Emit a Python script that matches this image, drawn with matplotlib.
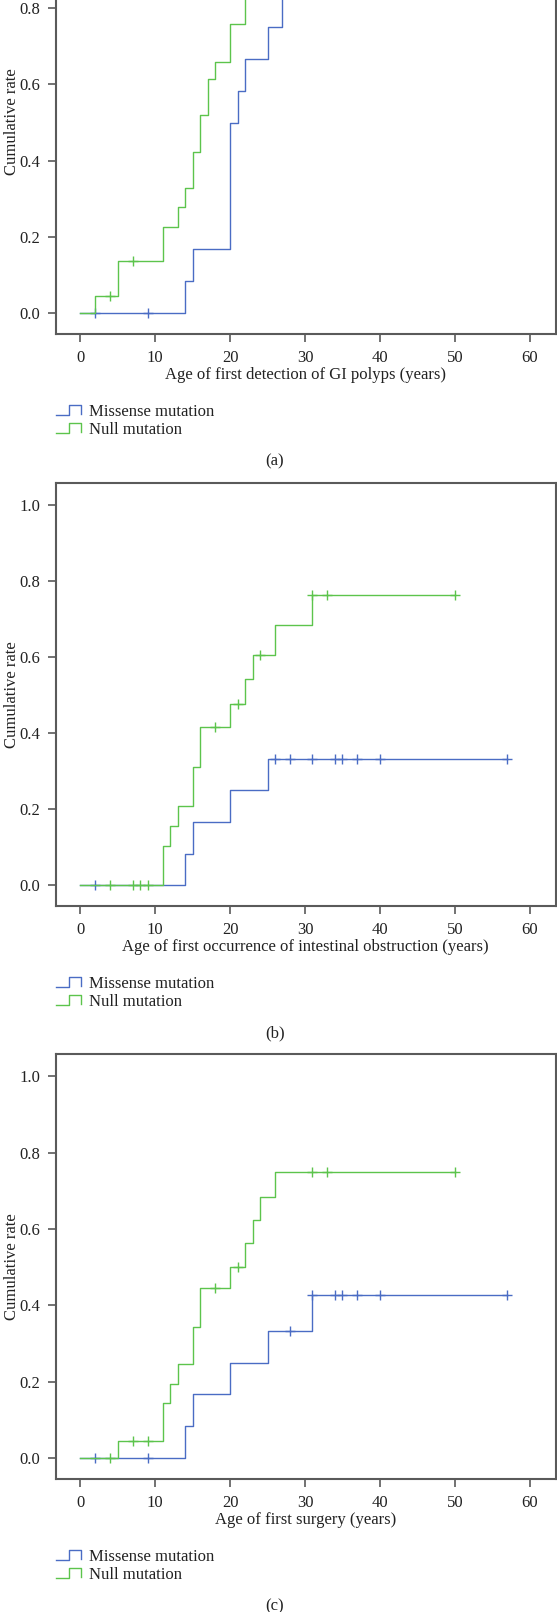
import numpy as np
import matplotlib
matplotlib.use("Agg")
import matplotlib.pyplot as plt
from matplotlib.legend_handler import HandlerBase
from matplotlib.lines import Line2D

# curve data: event times and cumulative rates (step, where='post')
a_miss_t = [0, 14, 15, 20, 21, 22, 25, 27, 30]
a_miss_y = [0, 0.083, 0.167, 0.500, 0.583, 0.667, 0.750, 0.875, 0.875]
a_miss_cens = [2, 9]
a_null_t = [0, 2, 5, 11, 13, 14, 15, 16, 17, 18, 20, 22, 26]
a_null_y = [0, 0.045, 0.136, 0.227, 0.279, 0.327, 0.423, 0.519, 0.615, 0.660, 0.760, 0.860, 0.860]
a_null_cens = [4, 7]

b_miss_t = [0, 14, 15, 20, 25, 57]
b_miss_y = [0, 0.083, 0.167, 0.250, 0.333, 0.333]
b_miss_cens = [2, 26, 28, 31, 34, 35, 37, 40, 57]
b_null_t = [0, 11, 12, 13, 15, 16, 20, 22, 23, 26, 31, 50]
b_null_y = [0, 0.104, 0.156, 0.208, 0.312, 0.417, 0.477, 0.542, 0.606, 0.684, 0.763, 0.763]
b_null_cens = [4, 7, 8, 9, 18, 21, 24, 31, 33, 50]

c_miss_t = [0, 14, 15, 20, 25, 31, 57]
c_miss_y = [0, 0.083, 0.167, 0.250, 0.333, 0.428, 0.428]
c_miss_cens = [2, 9, 28, 31, 34, 35, 37, 40, 57]
c_null_t = [0, 5, 11, 12, 13, 15, 16, 20, 22, 23, 24, 26, 50]
c_null_y = [0, 0.045, 0.144, 0.195, 0.245, 0.344, 0.445, 0.500, 0.562, 0.623, 0.684, 0.749, 0.749]
c_null_cens = [4, 7, 9, 18, 21, 31, 33, 50]

xlabels = ["Age of first detection of GI polyps (years)",
           "Age of first occurrence of intestinal obstruction (years)",
           "Age of first surgery (years)"]
panel_tags = ["(a)", "(b)", "(c)"]
groups = ["Missense mutation", "Null mutation"]

BLUE = "#4a6cc4"
GREEN = "#5cc44c"
SPINE = "#5a5a5a"
TXT = "#222222"

plt.rcParams['font.family'] = ['Liberation Serif', 'DejaVu Serif']
plt.rcParams['font.size'] = 12

W, H = 557, 1612
fig = plt.figure(figsize=(W / 100, H / 100), dpi=100)


class StepHandler(HandlerBase):
    # little step glyph like the SPSS legend
    def create_artists(self, legend, orig_handle, xdescent, ydescent,
                       width, height, fontsize, trans):
        x0, y0 = -xdescent, -ydescent
        hh = height
        xs = [x0, x0 + width * 0.5, x0 + width * 0.5, x0 + width, x0 + width]
        ys = [y0, y0, y0 + hh, y0 + hh, y0 + hh * 0.1]
        ln = Line2D(xs, ys, color=orig_handle.get_color(), lw=1.0, transform=trans)
        return [ln]


def cens_y(t, y, c):
    idx = np.searchsorted(t, c, side='right') - 1
    return np.asarray(y)[idx]


def km(ax, t, y, cens, color):
    ax.step(t, y, where='post', color=color, lw=1.0)
    ax.plot(cens, cens_y(t, y, cens), ls='none', marker='+', ms=7, mew=1.0, color=color)


panels = [
    (a_miss_t, a_miss_y, a_miss_cens, a_null_t, a_null_y, a_null_cens),
    (b_miss_t, b_miss_y, b_miss_cens, b_null_t, b_null_y, b_null_cens),
    (c_miss_t, c_miss_y, c_miss_cens, c_null_t, c_null_y, c_null_cens),
]
tops_px = [-90, 483, 1054]
bottoms_px = [334, 906, 1479]
left_px, right_px = 56, 555.5

for i, (mt, my, mc, nt, ny, nc) in enumerate(panels):
    top, bot = tops_px[i], bottoms_px[i]
    ax = fig.add_axes([left_px / W, 1 - bot / H, (right_px - left_px) / W, (bot - top) / H])
    km(ax, mt, my, mc, BLUE)
    km(ax, nt, ny, nc, GREEN)
    ax.set_xlim(-3.24, 63.45)
    ax.set_ylim(-0.055, 1.058)
    ax.set_xticks(np.arange(0, 61, 10))
    ax.set_yticks(np.arange(0, 1.01, 0.2))
    ax.yaxis.set_major_formatter(plt.FormatStrFormatter('%.1f'))
    for s in ax.spines.values():
        s.set_color(SPINE)
        s.set_linewidth(1.5)
    ax.tick_params(direction='out', length=5.8, width=1.2, color=SPINE,
                   labelcolor=TXT, pad=5.5)
    ax.set_xlabel(xlabels[i], color=TXT, labelpad=1)
    ax.set_ylabel("Cumulative rate", color=TXT)
    ax.yaxis.set_label_coords(-0.072, 0.5)

    hm = Line2D([], [], color=BLUE)
    hn = Line2D([], [], color=GREEN)
    ax.legend([hm, hn], groups, handler_map={Line2D: StepHandler()},
              loc='upper left', bbox_to_anchor=(0.0, -70 / (bot - top)),
              frameon=False, borderaxespad=0, borderpad=0, handlelength=1.5,
              handleheight=0.5, handletextpad=0.5, labelspacing=0.12,
              labelcolor=TXT)

    fig.text(275 / W, 1 - (bot + 127) / H, panel_tags[i], ha='center', va='center', color=TXT)

fig.savefig("out.png", dpi=100)
